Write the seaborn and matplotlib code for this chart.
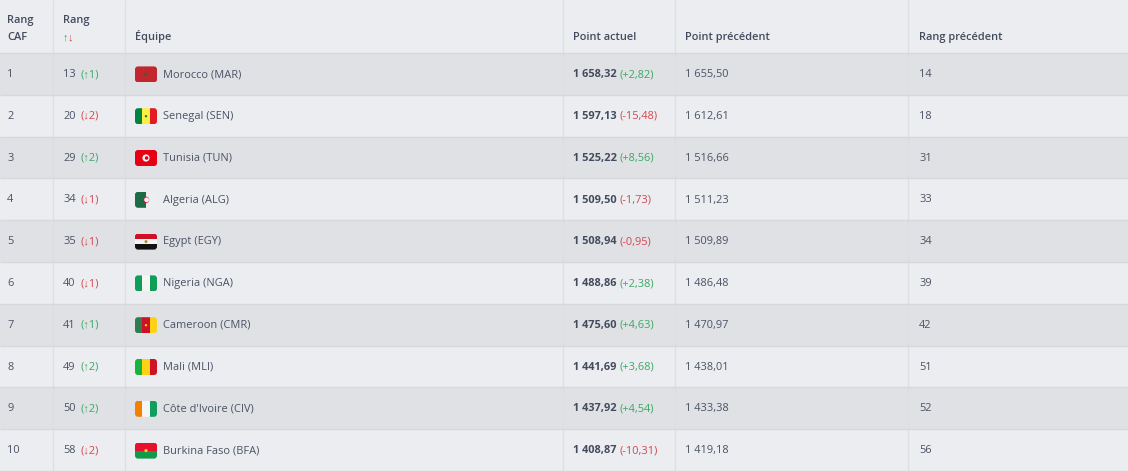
import numpy as np
import matplotlib
matplotlib.use('Agg')
import matplotlib.pyplot as plt
import seaborn as sns
from matplotlib.patches import FancyBboxPatch, Rectangle, Circle

# table values
caf_rank = [1, 2, 3, 4, 5, 6, 7, 8, 9, 10]
fifa_rank = [13, 20, 29, 34, 35, 40, 41, 49, 50, 58]
rank_move = ["↑1", "↓2", "↑2", "↓1", "↓1", "↓1", "↑1", "↑2", "↑2", "↓2"]
teams = ["Morocco (MAR)", "Senegal (SEN)", "Tunisia (TUN)", "Algeria (ALG)", "Egypt (EGY)",
         "Nigeria (NGA)", "Cameroon (CMR)", "Mali (MLI)", "Côte d'Ivoire (CIV)", "Burkina Faso (BFA)"]
points = ["1 658,32", "1 597,13", "1 525,22", "1 509,50", "1 508,94",
          "1 488,86", "1 475,60", "1 441,69", "1 437,92", "1 408,87"]
point_diff = ["+2,82", "-15,48", "+8,56", "-1,73", "-0,95", "+2,38", "+4,63", "+3,68", "+4,54", "-10,31"]
prev_points = ["1 655,50", "1 612,61", "1 516,66", "1 511,23", "1 509,89",
               "1 486,48", "1 470,97", "1 438,01", "1 433,38", "1 419,18"]
prev_rank = [14, 18, 31, 33, 34, 39, 42, 51, 52, 56]
headers = ["Équipe", "Point actuel", "Point précédent", "Rang précédent"]

# flags: stripe colours, direction
flag_stripes = [
    (["#c1272d"], "v"),
    (["#00853f", "#fdef42", "#e31b23"], "v"),
    (["#e70013"], "v"),
    (["#1b6b45", "#eceef1"], "v"),
    (["#ce1126", "#f4f4f4", "#111111"], "h"),
    (["#0f9d58", "#f4f6f4", "#0f9d58"], "v"),
    (["#2f7d4f", "#ce1126", "#fcd116"], "v"),
    (["#14b53a", "#fcd116", "#ce1126"], "v"),
    (["#f77f00", "#f4f6f4", "#0f9d60"], "v"),
    (["#e8112d", "#109a4c"], "h"),
]
# centre mark of each flag: colour and radius, None when the flag has none
flag_marks = [("#6d4a2a", 2.0), ("#1f7a3a", 1.2), ("#f6f6f6", 3.6), ("#d21034", 3.2), ("#b08d2c", 1.5),
              None, ("#fcd116", 1.2), None, None, ("#fcd116", 1.6)]
# inner disc that turns the mark into a ring or crescent
flag_inner = [None, None, ("#e70013", 1.8), ("#f0f1f3", 2.4), None, None, None, None, None, None]

sns.set_theme(style="white")
plt.rcParams['font.family'] = ['Open Sans', 'Liberation Sans', 'DejaVu Sans']

BG = "#ebedf0"
DARK = "#dfe1e5"
LINE = "#dcdee2"
TXT = "#4a5264"
HEAD = "#434b5e"
GREEN = "#3aaa62"
RED = "#d4474f"
FS = 7.9

fig = plt.figure(figsize=(11.28, 4.71), dpi=100, facecolor=BG)

# striped rows
body = fig.add_axes([0, 0, 1, 1 - 53 / 471])
stripes = np.array([[1 - i % 2] for i in range(10)])
sns.heatmap(stripes, ax=body, cbar=False, cmap=[BG, DARK], xticklabels=False, yticklabels=False,
            linewidths=0)

# overlay in pixel coords
ov = fig.add_axes([0, 0, 1, 1])
ov.set_xlim(0, 1128)
ov.set_ylim(471, 0)
ov.axis('off')
ov.patch.set_alpha(0)

col_x = [53, 125, 563, 675, 908]
for x in col_x:
    ov.plot([x, x], [0, 471], color=LINE, lw=1, solid_capstyle='butt')
row_h = (471 - 53) / 10
for i in range(11):
    y = 53 + i * row_h
    ov.plot([0, 1128], [y, y], color="#d6d8dd", lw=1, solid_capstyle='butt')

# header
ov.text(7, 23, "Rang", fontsize=FS, color=HEAD, weight='semibold', va='baseline')
ov.text(7, 40, "CAF", fontsize=FS, color=HEAD, weight='semibold', va='baseline')
ov.text(63, 23, "Rang", fontsize=FS, color=HEAD, weight='semibold', va='baseline')
ov.text(63, 40, "↑", fontsize=8, color=GREEN, va='baseline')
ov.text(67.6, 40, "↓", fontsize=8, color=RED, va='baseline')
for h, x in zip(headers, [135.5, 573, 685, 919]):
    ov.text(x, 40, h, fontsize=FS, color=HEAD, weight='semibold', va='baseline')


def draw_flag(cx, cy, colours, direction, mark, inner):
    x0, y0, w, h = cx - 11, cy - 8, 22, 16
    clip = FancyBboxPatch((x0 + 3, y0 + 3), w - 6, h - 6, boxstyle="round,pad=3",
                          fc='none', ec='none')
    ov.add_patch(clip)
    n = len(colours)
    for k, c in enumerate(colours):
        if direction == "v":
            r = Rectangle((x0 + k * w / n, y0), w / n, h, fc=c, ec='none')
        else:
            r = Rectangle((x0, y0 + k * h / n), w, h / n, fc=c, ec='none')
        ov.add_patch(r)
        r.set_clip_path(clip)
    if mark:
        ov.add_patch(Circle((cx, cy), mark[1], fc=mark[0], ec='none'))
    if inner:
        ov.add_patch(Circle((cx + 0.6, cy), inner[1], fc=inner[0], ec='none'))


renderer = fig.canvas.get_renderer()
for i in range(10):
    mid = 53 + (i + 0.5) * row_h
    y = mid + 3.2
    ov.text(7, y, str(caf_rank[i]), fontsize=FS, color=TXT, va='baseline')
    ov.text(63, y, str(fifa_rank[i]), fontsize=FS, color=TXT, va='baseline')
    mv_col = GREEN if rank_move[i][0] == "↑" else RED
    ov.text(80.5, y, "(" + rank_move[i] + ")", fontsize=FS, color=mv_col, va='baseline')
    draw_flag(146, mid + 0.5, flag_stripes[i][0], flag_stripes[i][1], flag_marks[i], flag_inner[i])
    ov.text(163, y, teams[i], fontsize=FS, color=TXT, va='baseline')
    t = ov.text(573, y, points[i], fontsize=FS, color=HEAD, weight='bold', va='baseline')
    end = t.get_window_extent(renderer).x1
    diff_col = GREEN if point_diff[i][0] == "+" else RED
    ov.text(end + 3, y, "(" + point_diff[i] + ")", fontsize=FS, color=diff_col, va='baseline')
    ov.text(685, y, prev_points[i], fontsize=FS, color=TXT, va='baseline')
    ov.text(919, y, str(prev_rank[i]), fontsize=FS, color=TXT, va='baseline')

fig.savefig("out.png", dpi=100, facecolor=BG)
